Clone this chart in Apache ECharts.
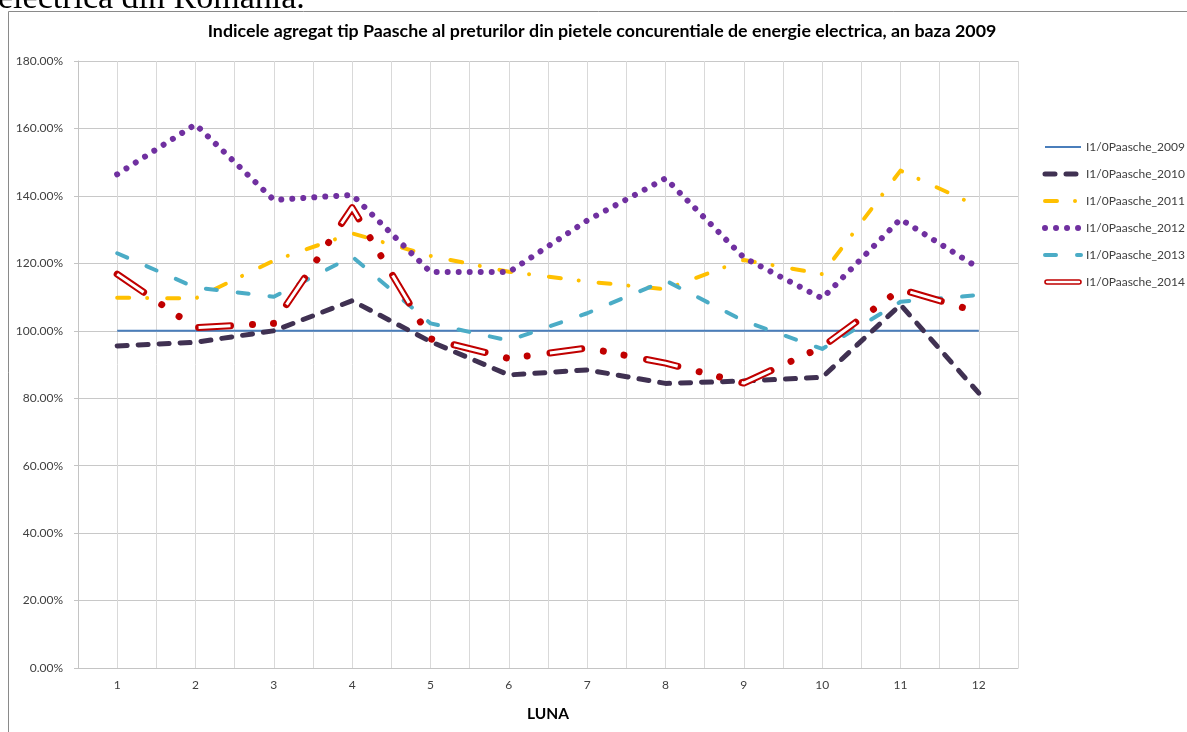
<!DOCTYPE html>
<html>
<head>
<meta charset="utf-8">
<script src="https://cdn.jsdelivr.net/npm/echarts@6/dist/echarts.min.js"></script>
<style>
  html, body { margin: 0; padding: 0; background: #fff; }
  #chart { width: 1187px; height: 732px; }
</style>
</head>
<body>
<div id="chart"></div>
<script>
// ---- data ----
const months = [1, 2, 3, 4, 5, 6, 7, 8, 9, 10, 11, 12];
const seriesNames = ['I1/0Paasche_2009', 'I1/0Paasche_2010', 'I1/0Paasche_2011',
                     'I1/0Paasche_2012', 'I1/0Paasche_2013', 'I1/0Paasche_2014'];
const s2009 = [100, 100, 100, 100, 100, 100, 100, 100, 100, 100, 100, 100];
const s2010 = [95.5, 96.6, 100.0, 108.9, 96.8, 86.9, 88.4, 84.4, 85.1, 86.2, 107.7, 81.5];
const s2011 = [109.8, 109.6, 120.8, 128.9, 122.2, 117.5, 114.6, 112.3, 121.0, 116.8, 147.5, 136.8];
const s2012 = [146.4, 161.2, 138.8, 140.3, 117.4, 117.4, 132.7, 145.2, 121.7, 109.6, 133.1, 118.6];
const s2013 = [123.0, 112.8, 110.1, 122.0, 102.2, 97.1, 105.2, 114.9, 102.9, 94.6, 108.6, 110.6];
const s2014 = [116.8, 100.9, 102.2, 136.5, 97.6, 91.8, 94.9, 90.4, 84.5, 95.2, 112.3, 105.5];
const yTicks = [0, 20, 40, 60, 80, 100, 120, 140, 160, 180];
const titleText = 'Indicele agregat tip Paasche al preturilor din pietele concurentiale de energie electrica, an baza 2009';
const docText = 'electrica din Romania.';
const xName = 'LUNA';

const pts = arr => arr.map((v, i) => [months[i], v]);
const FONT = 'Lato, "Open Sans", sans-serif';

function lineSeries(name, data, color, width, dash, cap, z) {
  return {
    name: name, type: 'line', data: pts(data), symbol: 'none', z: z || 2,
    silent: true, animation: false,
    lineStyle: { color: color, width: width, type: dash, cap: cap || 'round', join: 'round' },
    itemStyle: { color: color }
  };
}

const chart = echarts.init(document.getElementById('chart'), null, { renderer: 'canvas' });
const option = {
  animation: false,
  backgroundColor: '#ffffff',
  title: {
    text: titleText, left: 602, top: 22, textAlign: 'center', padding: 0,
    textStyle: { fontFamily: FONT, fontWeight: 'bold', fontSize: 17.8, color: '#000' }
  },
  graphic: [
    { type: 'rect', shape: { x: 8.5, y: 11.5, width: 1300, height: 800 }, silent: true,
      style: { fill: null, stroke: '#8a8a8a', lineWidth: 1 } },
    { type: 'text', x: -2, y: 16, silent: true,
      style: { text: docText, fontSize: 34, fontFamily: '"Liberation Serif", serif', fill: '#000', verticalAlign: 'bottom' } }
  ],
  legend: {
    orient: 'vertical', left: 1042, top: 141, padding: 0,
    itemWidth: 36, itemHeight: 14, itemGap: 15,
    selectedMode: false,
    itemStyle: { opacity: 0 },
    lineStyle: { width: 'inherit' },
    textStyle: { fontFamily: FONT, fontSize: 12, color: '#404040' },
    data: [
      { name: seriesNames[0] }, { name: seriesNames[1] }, { name: seriesNames[2] },
      { name: seriesNames[3] }, { name: seriesNames[4] },
      { name: seriesNames[5], icon: 'path://M2,0 L34,0 A2,2 0 0 1 34,4 L2,4 A2,2 0 0 1 2,0 Z',
        itemStyle: { color: '#ffffff', borderColor: '#C00000', borderWidth: 1.6, opacity: 1 } }
    ]
  },
  grid: { left: 78, right: 169, top: 61, bottom: 64, containLabel: false },
  xAxis: {
    type: 'value', min: 0.5, max: 12.5, interval: 0.5,
    name: xName, nameLocation: 'middle', nameGap: 38,
    nameTextStyle: { fontFamily: FONT, fontWeight: 'bold', fontSize: 15.5, color: '#000' },
    axisLine: { show: true, lineStyle: { color: '#c4c4c4', width: 1 } },
    axisTick: { show: false },
    axisLabel: { fontFamily: FONT, fontSize: 12, color: '#404040', margin: 11,
      formatter: v => (Math.abs(v - Math.round(v)) < 1e-9 ? String(Math.round(v)) : '') },
    splitLine: { show: true, lineStyle: { color: '#d9d9d9', width: 1 } }
  },
  yAxis: {
    type: 'value', min: yTicks[0], max: yTicks[yTicks.length - 1], interval: 20,
    axisLine: { show: true, lineStyle: { color: '#c4c4c4', width: 1 } },
    axisTick: { show: true, length: 4, lineStyle: { color: '#c4c4c4' } },
    axisLabel: { fontFamily: FONT, fontSize: 12, color: '#404040', margin: 15,
      formatter: v => v.toFixed(2) + '%' },
    splitLine: { show: true, lineStyle: { color: '#c8c8c8', width: 1 } }
  },
  series: [
    lineSeries(seriesNames[0], s2009, '#4A7EBB', 2, 'solid', 'butt', 2),
    lineSeries(seriesNames[1], s2010, '#403152', 5, [10, 11], 'round', 3),
    lineSeries(seriesNames[2], s2011, '#FFC000', 4, [12, 18, 0.01, 20], 'round', 4),
    lineSeries(seriesNames[3], s2012, '#7030A0', 6, [0.01, 11], 'round', 5),
    lineSeries(seriesNames[4], s2013, '#4BACC6', 4, [11, 21], 'round', 6),
    lineSeries(seriesNames[5], s2014, '#C00000', 7, [32, 22, 0.01, 21, 0.01, 23], 'round', 7),
    lineSeries('inner_2014', s2014, '#ffffff', 3, [32, 22, 0, 21, 0, 23], 'butt', 8)
  ]
};
chart.setOption(option);
</script>
</body>
</html>
